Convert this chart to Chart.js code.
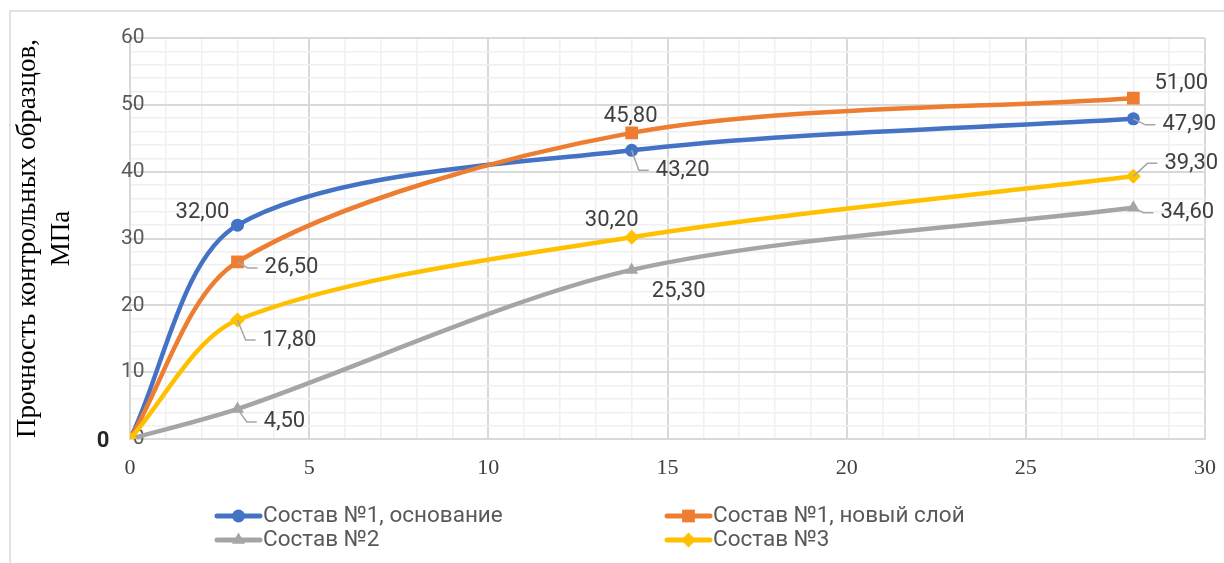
<!DOCTYPE html>
<html>
<head>
<meta charset="utf-8">
<script src="https://cdn.jsdelivr.net/npm/chart.js@4"></script>
<style>
  body { margin: 0; background: #fff; }
  #wrap { width: 1224px; height: 563px; }
</style>
</head>
<body>
<div id="wrap"><canvas id="myChart" width="1224" height="563"></canvas></div>
<script>
// chart data
var days = [0, 3, 14, 28];
var names = ['Состав №1, основание', 'Состав №1, новый слой', 'Состав №2', 'Состав №3'];
var base1 = [0, 32.0, 43.2, 47.9];
var layer1 = [0, 26.5, 45.8, 51.0];
var comp2 = [0, 4.5, 25.3, 34.6];
var comp3 = [0, 17.8, 30.2, 39.3];
var xMax = 30, xMajor = 5;
var yMax = 60, yMajor = 10;
var yTitle = ['Прочность контрольных образцов,', 'МПа'];

var colors = ['#4472C4', '#ED7D31', '#A5A5A5', '#FFC000'];
var shapes = ['circle', 'rect', 'triangle', 'rectRot'];
var radii = [6.5, 9, 7.5, 7.5];

// where each value label sits relative to its point: [dx, dy, leader]
var labelPos = [
  [[-27, 2, 0], [-35, -13, 0], [51, 20, 1], [56, 6, 1]],
  [null, [54, 6, 1], [-1, -16, 0], [48, -15, 0]],
  [null, [47, 13, 1], [47, 22, 0], [54, 5, 1]],
  [null, [52, 20, 1], [-20, -17, 0], [58, -13, 1]]
];

var values = [base1, layer1, comp2, comp3];
var ctx = document.getElementById('myChart').getContext('2d');

function toPoints(arr) {
  var out = [];
  for (var i = 0; i < arr.length; i++) out.push({x: days[i], y: arr[i]});
  return out;
}

function fmt(v) {
  return v === 0 ? '0' : v.toFixed(2).replace('.', ',');
}

function marker(c, shape, r, x, y) {
  c.beginPath();
  if (shape === 'circle') {
    c.arc(x, y, r, 0, Math.PI * 2);
  } else if (shape === 'rect') {
    var s = r * Math.SQRT1_2;
    c.rect(x - s, y - s, 2 * s, 2 * s);
  } else if (shape === 'triangle') {
    var e = 3 * r / Math.sqrt(3), h = e * Math.sqrt(3) / 2;
    c.moveTo(x - e / 2, y + h / 3);
    c.lineTo(x + e / 2, y + h / 3);
    c.lineTo(x, y - 2 * h / 3);
    c.closePath();
  } else {
    c.moveTo(x - r, y); c.lineTo(x, y - r); c.lineTo(x + r, y); c.lineTo(x, y + r);
    c.closePath();
  }
  c.fill();
}

var decor = {
  id: 'decor',
  beforeDraw: function(chart) {
    var c = chart.ctx;
    c.save();
    c.strokeStyle = '#D9D9D9';
    c.lineWidth = 1.5;
    c.beginPath();
    c.moveTo(10, 563); c.lineTo(10, 11); c.lineTo(1224, 11);
    c.stroke();
    c.restore();
  },
  afterDatasetsDraw: function(chart) {
    var c = chart.ctx;
    c.save();
    c.textBaseline = 'middle';
    c.textAlign = 'center';
    for (var d = 0; d < values.length; d++) {
      var meta = chart.getDatasetMeta(d);
      for (var i = 0; i < meta.data.length; i++) {
        var p = labelPos[d][i];
        if (!p) continue;
        var pt = meta.data[i];
        var txt = fmt(values[d][i]);
        var tx = pt.x + p[0], ty = pt.y + p[1];
        c.font = (d === 0 && i === 0 ? 'bold ' : '') + '22px Roboto';
        var w = c.measureText(txt).width;
        if (p[2]) {
          var left = tx - w / 2;
          c.strokeStyle = '#A6A6A6';
          c.lineWidth = 1.5;
          c.beginPath();
          c.moveTo(pt.x, pt.y);
          c.lineTo(left - 17, ty);
          c.lineTo(left - 7, ty);
          c.stroke();
        }
        c.fillStyle = (d === 0 && i === 0) ? '#262626' : '#404040';
        c.fillText(txt, tx, ty);
      }
    }
    c.restore();
  },
  afterDraw: function(chart) {
    var c = chart.ctx;
    var cols = [215, 665], rows = [516, 540];
    c.save();
    c.font = '22.5px Roboto';
    c.textBaseline = 'middle';
    c.textAlign = 'left';
    for (var k = 0; k < names.length; k++) {
      var x = cols[k % 2], y = rows[Math.floor(k / 2)];
      c.strokeStyle = colors[k];
      c.fillStyle = colors[k];
      c.lineWidth = 5;
      c.lineCap = 'round';
      c.beginPath();
      c.moveTo(x + 2, y); c.lineTo(x + 45, y);
      c.stroke();
      marker(c, shapes[k], radii[k], x + 23.5, y);
      c.fillStyle = '#595959';
      c.fillText(names[k], x + 48, y);
    }
    c.restore();
  }
};

var sets = [];
for (var s = 0; s < values.length; s++) {
  sets.push({
    label: names[s],
    data: toPoints(values[s]),
    showLine: true,
    borderColor: colors[s],
    backgroundColor: colors[s],
    borderWidth: 4.5,
    tension: 0.3,
    pointStyle: shapes[s],
    pointRadius: radii[s],
    pointBorderWidth: 0,
    order: values.length - s
  });
}

var chart = new Chart(ctx, {
  type: 'scatter',
  data: { datasets: sets },
  plugins: [decor],
  options: {
    responsive: false,
    animation: false,
    devicePixelRatio: 1,
    layout: { padding: { left: 0, right: 19, top: 38, bottom: 0 } },
    plugins: {
      legend: { display: false },
      tooltip: { enabled: false }
    },
    scales: {
      x: {
        type: 'linear',
        min: 0, max: xMax,
        afterFit: function(sc) {
          sc.height = 124;
          sc.paddingLeft = 0;
          sc.paddingRight = 0;
        },
        border: { color: '#D9D9D9', width: 2 },
        grid: {
          drawTicks: false,
          color: function(c) { return c.tick.value % xMajor === 0 ? '#D9D9D9' : '#F0F0F0'; },
          lineWidth: function(c) { return c.tick.value % xMajor === 0 ? 2 : 1.5; }
        },
        ticks: {
          stepSize: 1,
          autoSkip: false,
          maxRotation: 0,
          padding: 16,
          color: '#404040',
          font: { family: 'Liberation Serif', size: 22 },
          callback: function(v) { return v % xMajor === 0 ? v : ''; }
        }
      },
      y: {
        min: 0, max: yMax,
        afterFit: function(sc) { sc.width = 130; },
        border: { color: '#D9D9D9', width: 2 },
        grid: {
          drawTicks: false,
          color: function(c) { return c.tick.value % yMajor === 0 ? '#D9D9D9' : '#F0F0F0'; },
          lineWidth: function(c) { return c.tick.value % yMajor === 0 ? 2 : 1.5; }
        },
        ticks: {
          stepSize: 2,
          autoSkip: false,
          mirror: true,
          padding: -9,
          color: '#595959',
          font: { family: 'Roboto', size: 21 },
          callback: function(v) {
            if (v % yMajor !== 0) return '';
            return v < 10 ? '\u2007' + v : String(v);
          }
        },
        title: {
          display: true,
          text: yTitle,
          color: '#000',
          font: { family: 'Liberation Serif', size: 27, lineHeight: 1.25 },
          padding: { top: 11, bottom: 0 }
        }
      }
    }
  }
});
</script>
</body>
</html>
